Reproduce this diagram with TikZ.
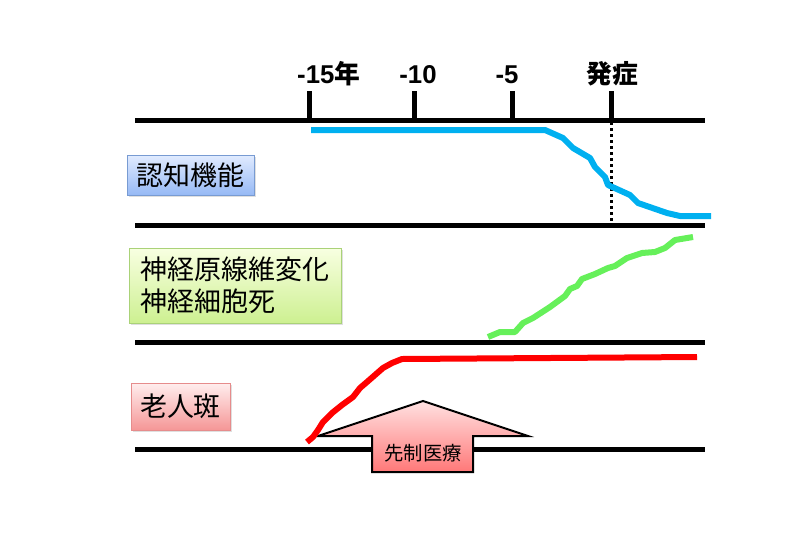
\documentclass[tikz,border=0pt]{standalone}
\usepackage{fontspec}
\setmainfont{Liberation Sans}
\newfontfamily\jp{Noto Sans CJK JP}
\usetikzlibrary{shadows}
\definecolor{curveblue}{RGB}{0,176,240}
\definecolor{curvegreen}{RGB}{102,240,90}
\definecolor{curvered}{RGB}{255,0,0}
\tikzset{
  axisline/.style={line width=1.5mm},
  yeartick/.style={line width=1.5mm},
  yearlabel/.style={font=\bfseries\fontsize{22pt}{26pt}\selectfont, inner sep=0pt},
  curve/.style={line width=1.8mm, line join=round},
  tagbox/.style={draw, line width=0.3mm, font=\jp\fontsize{23pt}{27pt}\selectfont,
    align=left, inner sep=0pt, drop shadow={shadow xshift=0.6mm, shadow yshift=-0.6mm, opacity=0.25}}
}
\begin{document}
\begin{tikzpicture}[x=0.3mm,y=-0.3mm]
  \useasboundingbox (0,0) rectangle (800,533);
  %% axes
  \draw[axisline] (135,120) -- (705,120);
  \draw[axisline] (135,225) -- (705,225);
  \draw[axisline] (135,342) -- (705,342);
  \draw[axisline] (135,449) -- (705,449);
  %% ticks
  \foreach \x in {309,414,512,611}
    \draw[yeartick] (\x,91) -- (\x,120);
  \node[yearlabel,anchor=base west] (y15) at (297,83) {-15{\jp\bfseries 年}};
  \node[yearlabel,anchor=base] (y10) at (418,83) {-10};
  \node[yearlabel,anchor=base] (y5) at (507,83) {-5};
  \node[yearlabel,anchor=base] (onset) at (612,83) {\jp\bfseries 発症};
  \draw[line width=0.9mm, dash pattern=on 0.9mm off 0.9mm] (611,122) -- (611,225);
  %% labels
  \node[tagbox, draw={rgb,255:red,120;green,155;blue,210}, top color={rgb,255:red,225;green,235;blue,255},
    bottom color={rgb,255:red,150;green,185;blue,245}, minimum width=38.1mm, minimum height=12mm]
    (cog) at (190.5,175) {認知機能};
  \node[tagbox, draw={rgb,255:red,170;green,210;blue,120}, top color={rgb,255:red,248;green,255;blue,225},
    bottom color={rgb,255:red,205;green,240;blue,145}, minimum width=63.6mm, minimum height=22.5mm]
    (tangle) at (235,285.5) {神経原線維変化\\神経細胞死};
  \node[tagbox, draw={rgb,255:red,230;green,140;blue,140}, top color={rgb,255:red,255;green,238;blue,238},
    bottom color={rgb,255:red,245;green,150;blue,150}, minimum width=29.7mm, minimum height=14.1mm]
    (plaque) at (180.5,406.5) {老人斑};
  %% curves
  \draw[curve, curveblue] (311,130) -- (545,130) -- (563,138) -- (573,148) -- (590,158) -- (595,167)
    -- (605,177) -- (608,185) -- (630,195) -- (638,203) -- (667,213) -- (680,216) -- (711,216);
  \draw[curve, curvegreen] (488,337) -- (500,332) -- (515,332) -- (523,323) -- (533,318) -- (550,307)
    -- (565,296) -- (570,289) -- (577,286) -- (582,279) -- (595,274) -- (608,268) -- (615,266)
    -- (627,258) -- (642,253) -- (655,252) -- (665,248) -- (675,240) -- (693,237);
  %% prevention
  \draw[line width=0.6mm, top color={rgb,255:red,255;green,225;blue,225},
    bottom color={rgb,255:red,255;green,120;blue,120}]
    (372,472) -- (372,436) -- (318,436) -- (423,401) -- (528,436) -- (473,436) -- (473,472) -- cycle;
  \node[font=\jp\fontsize{16.5pt}{20pt}\selectfont] (prevent) at (423,453) {先制医療};
  \draw[curve, curvered] (307,442) -- (313,437) -- (318,430) -- (323,422) -- (332,413) -- (342,405)
    -- (353,397) -- (360,388) -- (367,382) -- (375,375) -- (383,368) -- (392,363) -- (402,359)
    -- (697,357);
\end{tikzpicture}
\end{document}
